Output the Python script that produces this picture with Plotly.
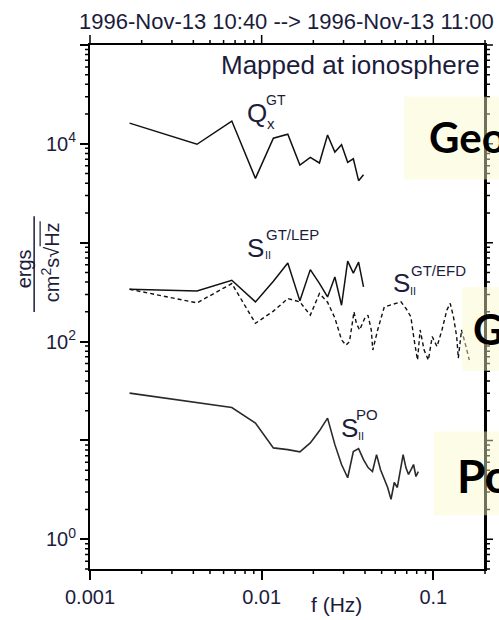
import numpy as np
import plotly.graph_objects as go

# ---------------- data ----------------
freq_gt = [0.0017, 0.0042, 0.0067, 0.0092, 0.0117, 0.0142, 0.0167, 0.0192,
           0.0217, 0.0242, 0.0267, 0.0292, 0.0317, 0.0342, 0.0367, 0.0392]
q_gt = [16200, 9900, 17000, 4470, 11400, 12500, 6100, 7300,
        6400, 12300, 8250, 9800, 6500, 7060, 4240, 4870]
s_gt_lep = [338, 325, 417, 252, 407, 622, 258, 534,
            388, 283, 450, 233, 652, 493, 637, 357]

freq_efd = [0.0017, 0.0042, 0.0067, 0.0092, 0.0117, 0.0142, 0.0167, 0.0192,
            0.0217, 0.0242, 0.0267, 0.0292, 0.031, 0.0325, 0.0345, 0.0356,
            0.0372, 0.0398, 0.0416, 0.0435, 0.0444, 0.0474, 0.0518, 0.0553,
            0.0606, 0.0648, 0.0693, 0.074, 0.0773, 0.0809, 0.0838, 0.0884,
            0.0936, 0.0985, 0.1051, 0.1123, 0.1199, 0.1254, 0.131, 0.1368,
            0.1398, 0.146, 0.155, 0.162]
s_gt_efd = [338, 246, 386, 153, 203, 272, 252, 185,
            306, 250, 173, 104, 92, 100, 200, 153,
            131, 171, 185, 131, 82, 131, 224, 233,
            243, 252, 216, 178, 104, 65, 131, 82,
            65, 112, 89, 131, 208, 243, 178, 112,
            68, 131, 89, 65]

freq_po = [0.0017, 0.0042, 0.0067, 0.0092, 0.0117, 0.0142, 0.0167, 0.0192,
           0.0217, 0.0242, 0.0267, 0.0292, 0.0317, 0.0342, 0.0367, 0.0392,
           0.0417, 0.0442, 0.0467, 0.0492, 0.0517, 0.0542, 0.0567, 0.0592,
           0.0617, 0.0642, 0.0667, 0.0692, 0.0717, 0.0742, 0.0767, 0.0792,
           0.0817]
s_po = [30.1, 24.0, 21.5, 15.0, 8.4, 8.07, 7.65, 9.43,
        12.5, 16.8, 9.06, 5.70, 4.19, 7.70, 8.26, 6.40,
        5.31, 4.84, 7.18, 5.07, 4.02, 3.34, 2.53, 3.75,
        3.34, 5.07, 7.18, 5.31, 4.52, 5.07, 5.70, 4.31,
        4.84]

x_tick_vals = [0.001, 0.01, 0.1]
x_tick_text = ["0.001", "0.01", "0.1"]
y_tick_vals = [1, 10, 100, 1e3, 1e4, 1e5]
y_tick_text = ["10<sup>0</sup>", " ", "10<sup>2</sup>", " ", "10<sup>4</sup>", " "]

title_text = "1996-Nov-13 10:40 --> 1996-Nov-13 11:00"
note_text = "Mapped at ionosphere"

# ---------------- layout helpers (pixel -> paper) ----------------
W, H = 499, 620
L, R, T, B = 90, 13, 45, 49
PW, PH = W - L - R, H - T - B


def px(x):
    return (x - L) / PW


def py(y):
    return (H - B - y) / PH


TXT = "#1c1c3c"
FONT = "Liberation Sans, Arial, sans-serif"

fig = go.Figure()
line_c = "#111111"
fig.add_trace(go.Scatter(x=freq_gt, y=q_gt, mode="lines",
                         line=dict(color=line_c, width=1.5)))
fig.add_trace(go.Scatter(x=freq_gt, y=s_gt_lep, mode="lines",
                         line=dict(color=line_c, width=1.5)))
fig.add_trace(go.Scatter(x=freq_efd, y=s_gt_efd, mode="lines",
                         line=dict(color=line_c, width=1.4, dash="4px,3px")))
fig.add_trace(go.Scatter(x=freq_po, y=s_po, mode="lines",
                         line=dict(color="#2a2a2a", width=1.6)))

x_minor = [m * 10.0 ** d for d in (-3, -2, -1) for m in range(2, 10) if m * 10.0 ** d <= 0.2001]
y_minor = [m * 10.0 ** d for d in (-1, 0, 1, 2, 3, 4) for m in range(2, 10)
           if 0.5 <= m * 10.0 ** d <= 1e5]

xr = [-3, np.log10(0.2)]
yr = [np.log10(0.5), 5]
base = dict(type="log", showgrid=False, zeroline=False, ticks="outside",
            tickcolor="black", tickwidth=1.5)


# ---- extra tick marks drawn as line-shaped markers on helper axes ----
def tick_marks(xs, ys, symbol, size, xaxis="x", yaxis="y"):
    fig.add_trace(go.Scatter(
        x=xs, y=ys, mode="markers", xaxis=xaxis, yaxis=yaxis, cliponaxis=False,
        hoverinfo="skip",
        marker=dict(symbol=symbol, size=size, color="black",
                    line=dict(color="black", width=1.5))))


nxm, nym = len(x_minor), len(y_minor)
tick_marks(x_minor, [-2.5 / PH] * nxm, "line-ns", 5, yaxis="y2")
tick_marks(x_minor, [1 + 2.5 / PH] * nxm, "line-ns", 5, yaxis="y2")
tick_marks(x_tick_vals, [1 + 5 / PH] * 3, "line-ns", 10, yaxis="y2")
tick_marks([-2.5 / PW] * nym, y_minor, "line-ew", 5, xaxis="x2")
tick_marks([1 + 2.5 / PW] * nym, y_minor, "line-ew", 5, xaxis="x2")
tick_marks([1 + 4 / PW] * 6, y_tick_vals, "line-ew", 8, xaxis="x2")

fig.update_layout(
    width=W, height=H,
    margin=dict(l=L, r=R, t=T, b=B),
    paper_bgcolor="white", plot_bgcolor="white",
    showlegend=False,
    xaxis=dict(**base, range=xr, tickmode="array", tickvals=x_tick_vals,
               ticktext=x_tick_text, ticklen=9, showline=True, linewidth=2,
               linecolor="black", mirror=True,
               tickfont=dict(family=FONT, size=20, color=TXT)),
    yaxis=dict(**base, range=yr, tickmode="array", tickvals=y_tick_vals,
               ticktext=y_tick_text, ticklen=8, showline=True, linewidth=2,
               linecolor="black", mirror=True,
               tickfont=dict(family=FONT, size=20, color=TXT)),
    xaxis2=dict(range=[0, 1], overlaying="x", anchor="y", visible=False),
    yaxis2=dict(range=[0, 1], overlaying="y", anchor="x", visible=False),
)


# same tick marks also as one path shape (paper units)
def xfrac(v):
    return (np.log10(v) - xr[0]) / (xr[1] - xr[0])


def yfrac(v):
    return (np.log10(v) - yr[0]) / (yr[1] - yr[0])


segs = []
for v in x_minor:
    f = xfrac(v)
    segs.append(f"M{f:.5f},0 L{f:.5f},{-5 / PH:.5f}")
    segs.append(f"M{f:.5f},1 L{f:.5f},{1 + 5 / PH:.5f}")
for v in x_tick_vals:
    f = xfrac(v)
    segs.append(f"M{f:.5f},1 L{f:.5f},{1 + 10 / PH:.5f}")
for v in y_minor:
    f = yfrac(v)
    segs.append(f"M0,{f:.5f} L{-5 / PW:.5f},{f:.5f}")
    segs.append(f"M1,{f:.5f} L{1 + 5 / PW:.5f},{f:.5f}")
for v in y_tick_vals:
    f = yfrac(v)
    segs.append(f"M1,{f:.5f} L{1 + 8 / PW:.5f},{f:.5f}")

shapes = [
    dict(type="path", xref="paper", yref="paper", path=" ".join(segs),
         line=dict(color="black", width=1.5), layer="above"),
    dict(type="line", xref="paper", yref="paper", x0=1, x1=1, y0=0, y1=1,
         line=dict(color="black", width=2), layer="above"),
]

ann = []


def add_text(x, y, text, size, xanchor="center", yanchor="middle", angle=0,
             color=TXT, family=FONT):
    ann.append(dict(x=px(x), y=py(y), xref="paper", yref="paper", text=text,
                    showarrow=False, xanchor=xanchor, yanchor=yanchor,
                    textangle=angle, font=dict(family=family, size=size, color=color)))


add_text(287, 21, title_text, 22)
add_text(483, 65, note_text, 26, xanchor="right")
add_text(337, 607, "f (Hz)", 21)

# y-axis title as a fraction
add_text(24, 270, "ergs", 20, angle=-90)
add_text(50, 263, "cm<sup>2</sup>s\u221aHz", 20, angle=-90)

# series labels
add_text(257, 113, "Q", 26)
add_text(276, 100, "GT", 14)
add_text(271, 124, "x", 15)

add_text(256, 249, "S", 26)
add_text(293, 235, "GT/LEP", 15)
add_text(268, 256, "II", 11)

add_text(402, 284, "S", 26)
add_text(439, 271, "GT/EFD", 15)
add_text(414, 292, "II", 11)

add_text(350, 429, "S", 26)
add_text(368, 416, "PO", 15)
add_text(362, 437, "II", 11)

shapes += [
    dict(type="line", xref="paper", yref="paper", x0=px(34), x1=px(34),
         y0=py(217), y1=py(313), line=dict(color=TXT, width=1.5)),
    dict(type="line", xref="paper", yref="paper", x0=px(40), x1=px(40),
         y0=py(222), y1=py(247), line=dict(color=TXT, width=1.2)),
]

box_fill = "rgba(250,248,200,0.45)"
for (x0, y0, y1) in [(405, 97, 180), (463, 288, 372), (435, 433, 517)]:
    shapes.append(dict(type="rect", xref="paper", yref="paper", x0=px(x0), x1=px(560),
                       y0=py(y1), y1=py(y0), fillcolor=box_fill, line=dict(width=0),
                       layer="above"))

BOLD = "Lato, Noto Sans, sans-serif"
add_text(428, 137, "<b>Geotail</b>", 42, xanchor="left", color="black", family=BOLD)
add_text(472, 330, "<b>Geotail</b>", 42, xanchor="left", color="black", family=BOLD)
add_text(456, 477, "<b>Polar</b>", 46, xanchor="left", color="black", family=BOLD)

fig.update_layout(annotations=ann, shapes=shapes)
fig.write_html("out.html")
